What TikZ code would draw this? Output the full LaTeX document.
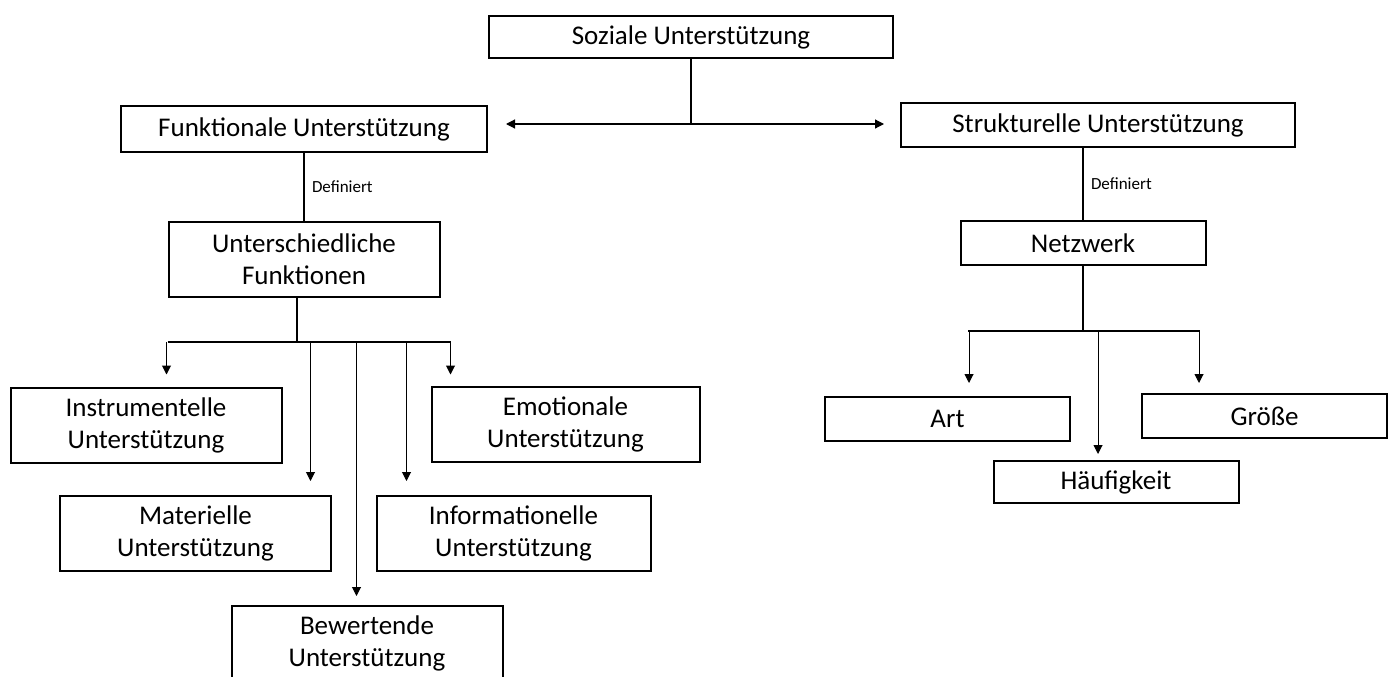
\documentclass[tikz,border=0pt]{standalone}
\usepackage{fontspec}
\setmainfont{Carlito}
\usepackage{tikz}
\usetikzlibrary{arrows.meta,positioning}
\tikzstyle{arrow} = [line width=1pt,-{Triangle[length=9pt,width=9pt]}]
\tikzstyle{link} = [line width=2pt]
\tikzstyle{supportbox} = [rectangle, draw=black, line width=2pt, minimum width=271pt, minimum height=75pt, inner sep=0pt, align=center, font=\fontsize{27}{32}\selectfont]
\tikzstyle{flatbox} = [supportbox, minimum width=245pt, minimum height=44pt]
\tikzstyle{tag} = [font=\fontsize{17}{20}\selectfont, inner sep=7pt]

\begin{document}
\begin{tikzpicture}
\useasboundingbox (0,0) rectangle (1392pt,-677pt);

% Top level
\node (soz) [supportbox, minimum width=404pt, minimum height=42pt] at (691pt,-37pt) {Soziale Unterstützung};
\node (funk) [supportbox, below of=soz, node distance=92pt, xshift=-387pt, minimum width=366pt, minimum height=46pt] {Funktionale Unterstützung};
\node (struk) [supportbox, below of=soz, node distance=88pt, xshift=407pt, minimum width=394pt, minimum height=44pt] {Strukturelle Unterstützung};

% Second level
\node (unter) [supportbox, below of=funk, node distance=130.5pt] {Unterschiedliche\\Funktionen};
\node (netz) [flatbox, below of=struk, node distance=118pt, xshift=-15pt] {Netzwerk};

% Functions
\node (instr) [supportbox, below of=unter, node distance=165.5pt, xshift=-158pt] {Instrumentelle\\Unterstützung};
\node (emot) [supportbox, below of=unter, node distance=164.5pt, xshift=261.5pt, minimum width=268pt] {Emotionale\\Unterstützung};
\node (mater) [supportbox, below of=instr, node distance=108.5pt, xshift=49.5pt] {Materielle\\Unterstützung};
\node (info) [supportbox, below of=emot, node distance=109.5pt, xshift=-52pt, minimum width=274pt] {Informationelle\\Unterstützung};
\node (bew) [supportbox, below of=mater, node distance=110pt, xshift=171.5pt] {Bewertende\\Unterstützung};

% Network features
\node (art) [flatbox, below of=netz, node distance=176pt, xshift=-135.5pt] {Art};
\node (groesse) [flatbox, below of=netz, node distance=173pt, xshift=181.5pt] {Größe};
\node (haeuf) [flatbox, below of=netz, node distance=239pt, xshift=33pt, minimum height=42pt] {Häufigkeit};

% Split below the top box
\coordinate [below of=soz, node distance=87pt] (split);
\draw[link] (soz.south) -- (split);
\draw[line width=1.2pt, {Triangle[length=9pt,width=9pt]}-{Triangle[length=9pt,width=9pt]}] ([xshift=18pt]split -| funk.east) -- ([xshift=-16pt]split -| struk.west);

% Definiert
\draw[link] (funk.south) -- node[tag, right] {Definiert} (unter.north);
\draw[link] (netz.north |- struk.south) -- node[tag, right] {Definiert} (netz.north);

% Left fork
\coordinate [below of=unter, node distance=82.5pt, xshift=-7.5pt] (fork);
\draw[link] (fork |- unter.south) -- (fork);
\draw[link] ([xshift=-129pt]fork) -- ([xshift=154pt]fork);
\draw[arrow, shorten >=12pt] ([xshift=-130pt]fork) -- ([xshift=-130pt]fork |- instr.north);
\draw[arrow, shorten >=14pt] ([xshift=14pt]fork) -- ([xshift=14pt]fork |- mater.north);
\draw[arrow, shorten >=9pt] ([xshift=60pt]fork) -- ([xshift=60pt]fork |- bew.north);
\draw[arrow, shorten >=14pt] ([xshift=110pt]fork) -- ([xshift=110pt]fork |- info.north);
\draw[arrow, shorten >=11pt] ([xshift=154pt]fork) -- ([xshift=154pt]fork |- emot.north);

% Right fork
\coordinate [below of=netz, node distance=88pt] (nfork);
\draw[link] (netz.south) -- (nfork);
\draw[link] ([xshift=-115pt]nfork) -- ([xshift=117pt]nfork);
\draw[arrow, shorten >=13pt] ([xshift=-114pt]nfork) -- ([xshift=-114pt]nfork |- art.north);
\draw[arrow, shorten >=6pt] ([xshift=15pt]nfork) -- ([xshift=15pt]nfork |- haeuf.north);
\draw[arrow, shorten >=10pt] ([xshift=116pt]nfork) -- ([xshift=116pt]nfork |- groesse.north);
\end{tikzpicture}
\end{document}
